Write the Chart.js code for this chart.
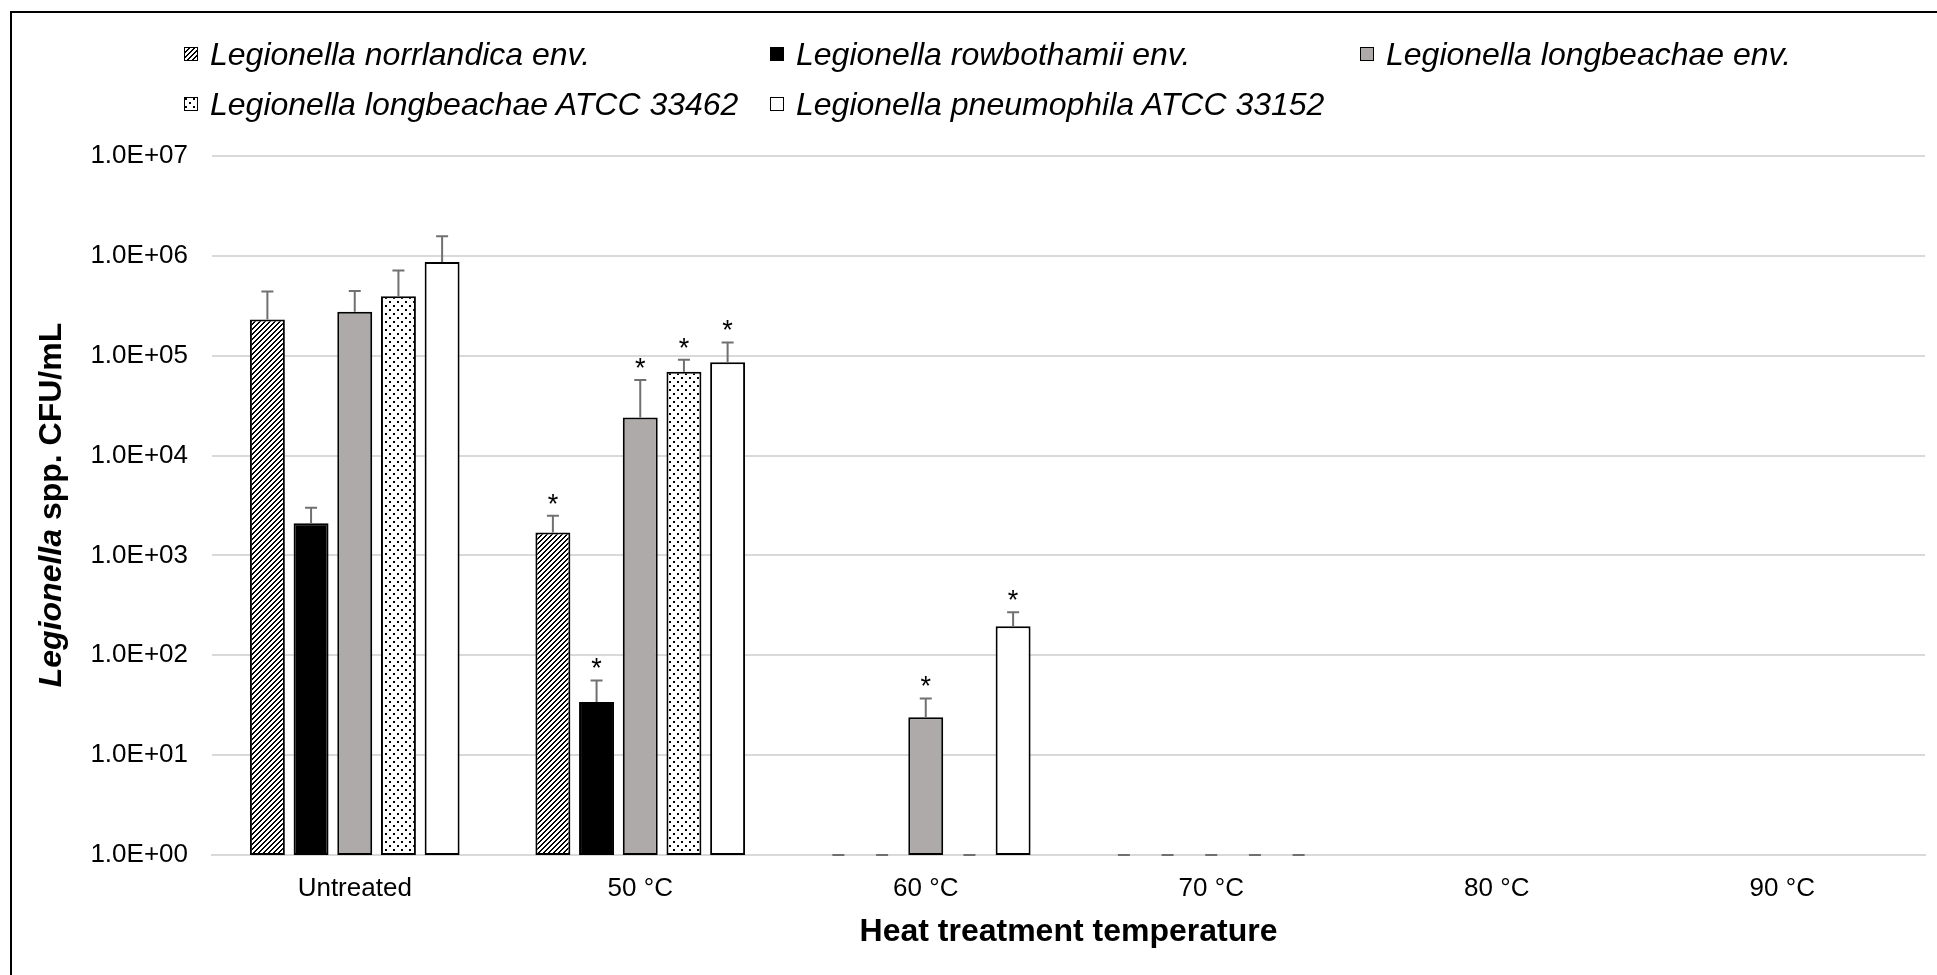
<!DOCTYPE html>
<html>
<head>
<meta charset="utf-8">
<script src="https://cdn.jsdelivr.net/npm/chart.js@4.4.1/dist/chart.umd.min.js"></script>
<style>
  html, body { margin: 0; padding: 0; background: #fff; overflow: hidden; }
  #wrap { position: relative; width: 1937px; height: 975px; }
  #frame { position: absolute; left: 10px; top: 11px; width: 1960px; height: 1000px; border: 2px solid #000; box-sizing: border-box; pointer-events: none; }
  .legend-item { position: absolute; display: flex; align-items: center; height: 40px; font: italic 32px "Liberation Sans", Arial, sans-serif; color: #000; white-space: nowrap; }
  .legend-item canvas { margin-right: 12px; }
  #ytitle { position: absolute; left: 50px; top: 505px; transform: translate(-50%, -50%) rotate(-90deg); font: bold 32px "Liberation Sans", Arial, sans-serif; color: #000; white-space: nowrap; }
</style>
</head>
<body>
<div id="wrap">
  <canvas id="chart"></canvas>
  <div id="legend"></div>
  <div id="ytitle"><i>Legionella</i> spp. CFU/mL</div>
  <div id="frame"></div>
</div>
<script>
const categories = ["Untreated", "50 °C", "60 °C", "70 °C", "80 °C", "90 °C"];

const seriesNames = [
  "Legionella norrlandica env.",
  "Legionella rowbothamii env.",
  "Legionella longbeachae env.",
  "Legionella longbeachae ATCC 33462",
  "Legionella pneumophila ATCC 33152",
];

// mean CFU/mL (1 = nothing recovered, null = not shown)
const norrlandica = [2.3e5, 1.7e3, 1, 1, null, null];
const rowbothamii = [2.1e3, 34, 1, 1, null, null];
const longbeachaeEnv = [2.75e5, 2.4e4, 24, 1, null, null];
const longbeachaeAtcc = [3.95e5, 6.9e4, 1, 1, null, null];
const pneumophila = [8.7e5, 8.6e4, 195, 1, null, null];

// standard deviations (upper error bar)
const norrlandicaSd = [2.1e5, 8.0e2, 0, 0, null, null];
const rowbothamiiSd = [9.0e2, 22, 0, 0, null, null];
const longbeachaeEnvSd = [1.7e5, 3.3e4, 13, 0, null, null];
const longbeachaeAtccSd = [3.2e5, 2.2e4, 0, 0, null, null];
const pneumophilaSd = [7.0e5, 5.0e4, 75, 0, null, null];

// significance stars
const norrlandicaStar = [false, true, false, false, false, false];
const rowbothamiiStar = [false, true, false, false, false, false];
const longbeachaeEnvStar = [false, true, true, false, false, false];
const longbeachaeAtccStar = [false, true, false, false, false, false];
const pneumophilaStar = [false, true, true, false, false, false];

const yTicks = [1, 10, 100, 1e3, 1e4, 1e5, 1e6, 1e7];
const yTickLabels = ["1.0E+00", "1.0E+01", "1.0E+02", "1.0E+03", "1.0E+04", "1.0E+05", "1.0E+06", "1.0E+07"];

const FONT = '"Liberation Sans", Arial, sans-serif';

function hatchPattern(ctx) {
  const t = document.createElement("canvas");
  t.width = 5; t.height = 5;
  const g = t.getContext("2d");
  g.fillStyle = "#fff"; g.fillRect(0, 0, 5, 5);
  g.fillStyle = "#000";
  for (let x = 0; x < 5; x++) {
    for (let y = 0; y < 5; y++) {
      if ((x + y) % 5 < 2) g.fillRect(x, y, 1, 1);
    }
  }
  return ctx.createPattern(t, "repeat");
}

function dotPattern(ctx) {
  const t = document.createElement("canvas");
  t.width = 8; t.height = 8;
  const g = t.getContext("2d");
  g.fillStyle = "#fff"; g.fillRect(0, 0, 8, 8);
  g.fillStyle = "#000";
  g.fillRect(1, 1, 2, 2);
  g.fillRect(5, 5, 2, 2);
  return ctx.createPattern(t, "repeat");
}

const fills = [
  (ctx) => hatchPattern(ctx),
  () => "#000",
  () => "#aeaaaa",
  (ctx) => dotPattern(ctx),
  () => "#fff",
];

// legend in three columns like the original
const legendCols = [184, 770, 1360];
const legendRows = [54, 104];
const legendEl = document.getElementById("legend");
seriesNames.forEach((name, i) => {
  const item = document.createElement("div");
  item.className = "legend-item";
  item.style.left = legendCols[i % 3] + "px";
  item.style.top = (legendRows[Math.floor(i / 3)] - 20) + "px";
  const sw = document.createElement("canvas");
  sw.width = 14; sw.height = 14;
  const sctx = sw.getContext("2d");
  sctx.fillStyle = fills[i](sctx);
  sctx.fillRect(0, 0, 14, 14);
  sctx.strokeStyle = "#000";
  sctx.lineWidth = 1;
  sctx.strokeRect(0.5, 0.5, 13, 13);
  item.appendChild(sw);
  item.appendChild(document.createTextNode(name));
  legendEl.appendChild(item);
});

const errorBars = {
  id: "errorBars",
  afterDatasetsDraw(chart) {
    const ctx = chart.ctx;
    const y = chart.scales.y;
    chart.data.datasets.forEach((ds, di) => {
      const meta = chart.getDatasetMeta(di);
      meta.data.forEach((bar, i) => {
        const v = ds.data[i];
        if (v == null) return;
        const top = y.getPixelForValue(v + ds.sd[i]);
        ctx.save();
        ctx.strokeStyle = "#707070";
        ctx.lineWidth = 2;
        ctx.beginPath();
        ctx.moveTo(bar.x, bar.y);
        ctx.lineTo(bar.x, top);
        ctx.moveTo(bar.x - 6, top);
        ctx.lineTo(bar.x + 6, top);
        ctx.stroke();
        if (ds.stars[i]) {
          ctx.fillStyle = "#000";
          ctx.font = "27px " + FONT;
          ctx.textAlign = "center";
          ctx.textBaseline = "alphabetic";
          ctx.fillText("*", bar.x, top - 3);
        }
        ctx.restore();
      });
    });
  },
};

const canvas = document.getElementById("chart");
const c2d = canvas.getContext("2d");
const values = [norrlandica, rowbothamii, longbeachaeEnv, longbeachaeAtcc, pneumophila];
const sds = [norrlandicaSd, rowbothamiiSd, longbeachaeEnvSd, longbeachaeAtccSd, pneumophilaSd];
const stars = [norrlandicaStar, rowbothamiiStar, longbeachaeEnvStar, longbeachaeAtccStar, pneumophilaStar];

Chart.defaults.font.family = FONT;
Chart.defaults.color = "#000";

new Chart(canvas, {
  type: "bar",
  data: {
    labels: categories,
    datasets: seriesNames.map((name, i) => ({
      label: name,
      data: values[i],
      sd: sds[i],
      stars: stars[i],
      backgroundColor: fills[i](c2d),
      borderColor: "#000",
      borderWidth: (c) => (c.raw > 1 ? 2 : 0),
      borderSkipped: false,
      categoryPercentage: 0.765,
      barPercentage: 0.8,
    })),
  },
  options: {
    responsive: true,
    maintainAspectRatio: false,
    animation: false,
    layout: { padding: { left: 0, right: 12, top: 156, bottom: 0 } },
    plugins: {
      legend: { display: false },
      tooltip: { enabled: false },
    },
    scales: {
      x: {
        grid: { display: false, drawTicks: false },
        border: { display: true, color: "#d9d9d9", width: 2 },
        ticks: { font: { size: 26 }, color: "#000", padding: 18 },
        title: {
          display: true,
          text: "Heat treatment temperature",
          font: { size: 32, weight: "bold" },
          color: "#000",
          padding: { top: 0, bottom: 24 },
        },
        afterFit: (s) => { s.height = 120; },
      },
      y: {
        type: "logarithmic",
        min: 1,
        max: 1e7,
        afterBuildTicks: (s) => { s.ticks = yTicks.map((v) => ({ value: v })); },
        ticks: {
          callback: (v) => yTickLabels[yTicks.indexOf(v)],
          font: { size: 26 },
          color: "#000",
          padding: 24,
        },
        grid: { color: "#d9d9d9", lineWidth: 2, drawTicks: false },
        border: { display: false },
        afterFit: (s) => { s.width = 212; },
      },
    },
  },
  plugins: [errorBars],
});
</script>
</body>
</html>
